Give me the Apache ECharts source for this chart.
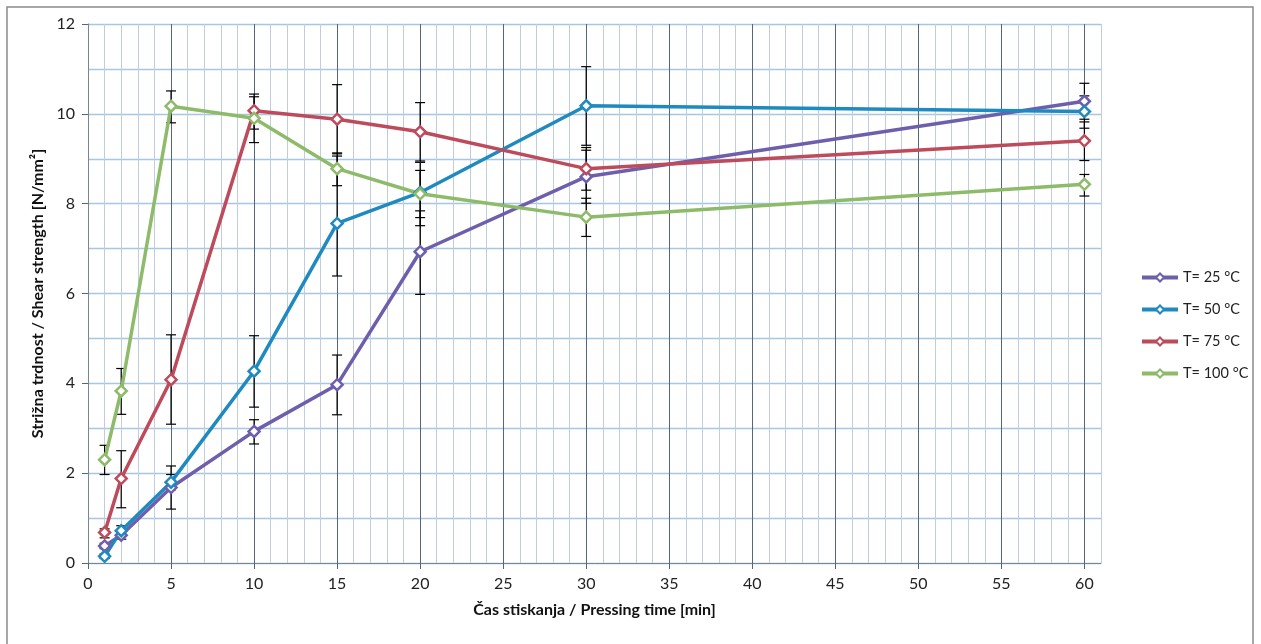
<!DOCTYPE html>
<html>
<head>
<meta charset="utf-8">
<script src="https://cdn.jsdelivr.net/npm/echarts@6/dist/echarts.min.js"></script>
<style>
html,body{margin:0;padding:0;background:#fff;}
#chart{width:1261px;height:644px;}
</style>
</head>
<body>
<div id="chart"></div>
<script>
// Pressing times (min)
const times = [1, 2, 5, 10, 15, 20, 30, 60];
const xTickLabels = [0, 5, 10, 15, 20, 25, 30, 35, 40, 45, 50, 55, 60];
const yTickLabels = [0, 2, 4, 6, 8, 10, 12];
const seriesNames = ['T= 25 °C', 'T= 50 °C', 'T= 75 °C', 'T= 100 °C'];

// Shear strength means [N/mm²]
const t25 = [0.38, 0.62, 1.68, 2.93, 3.97, 6.93, 8.60, 10.28];
const t50 = [0.15, 0.72, 1.80, 4.27, 7.56, 8.25, 10.18, 10.05];
const t75 = [0.68, 1.88, 4.08, 10.07, 9.88, 9.60, 8.78, 9.40];
const t100 = [2.30, 3.83, 10.17, 9.90, 8.78, 8.22, 7.70, 8.43];

// Error bar lows / highs
const t25Low  = [0.32, 0.53, 1.20, 2.65, 3.30, 5.98, 8.01, 9.88];
const t25High = [0.44, 0.72, 2.16, 3.19, 4.63, 7.84, 9.19, 10.68];
const t50Low  = [0.10, 0.60, 1.63, 3.47, 6.39, 7.51, 9.30, 9.68];
const t50High = [0.20, 0.83, 1.97, 5.06, 9.06, 8.92, 11.05, 10.40];
const t75Low  = [0.56, 1.23, 3.09, 9.66, 9.11, 8.95, 8.30, 8.96];
const t75High = [0.76, 2.50, 5.08, 10.44, 10.65, 10.25, 9.25, 9.82];
const t100Low  = [1.97, 3.31, 9.80, 9.36, 8.40, 7.69, 7.27, 8.17];
const t100High = [2.62, 4.33, 10.51, 10.38, 9.13, 8.74, 8.12, 8.65];

const colors = ['#6E5FAD', '#1F8ABF', '#BE4B5B', '#8DBB69'];
const means = [t25, t50, t75, t100];
const lows = [t25Low, t50Low, t75Low, t100Low];
const highs = [t25High, t50High, t75High, t100High];

const FONT = 'Lato, "Liberation Sans", sans-serif';

const lineSeries = means.map((vals, i) => ({
  name: seriesNames[i],
  type: 'line',
  xAxisIndex: 0,
  yAxisIndex: 0,
  data: times.map((t, j) => [t, vals[j]]),
  symbol: 'diamond',
  symbolSize: 11,
  showSymbol: true,
  lineStyle: { color: colors[i], width: 3.5 },
  itemStyle: { color: '#ffffff', borderColor: colors[i], borderWidth: 2.5 },
  z: 5,
  animation: false
}));

const errData = [];
means.forEach((vals, i) => {
  times.forEach((t, j) => errData.push([t, lows[i][j], highs[i][j]]));
});

const errSeries = {
  type: 'custom',
  xAxisIndex: 0,
  yAxisIndex: 0,
  data: errData,
  z: 4,
  silent: true,
  animation: false,
  renderItem: function (params, api) {
    const x = api.value(0);
    const lo = api.coord([x, api.value(1)]);
    const hi = api.coord([x, api.value(2)]);
    const w = 5;
    const style = { stroke: '#000', lineWidth: 1.2 };
    return {
      type: 'group',
      children: [
        { type: 'line', shape: { x1: lo[0], y1: lo[1], x2: hi[0], y2: hi[1] }, style: style },
        { type: 'line', shape: { x1: lo[0] - w, y1: lo[1], x2: lo[0] + w, y2: lo[1] }, style: style },
        { type: 'line', shape: { x1: hi[0] - w, y1: hi[1], x2: hi[0] + w, y2: hi[1] }, style: style }
      ]
    };
  }
};

const minorColor = '#BFCDDC';
const majorColor = '#56667A';

const option = {
  backgroundColor: '#ffffff',
  animation: false,
  textStyle: { fontFamily: FONT },
  grid: { left: 88, top: 24, right: 160, bottom: 81, containLabel: false },
  graphic: [{
    type: 'rect',
    shape: { x: 7, y: 7, width: 1246, height: 645 },
    style: { fill: 'none', stroke: '#8a8a8a', lineWidth: 1.5 },
    silent: true,
    z: 0
  }],
  legend: {
    orient: 'vertical',
    left: 1135,
    top: 265,
    itemWidth: 36,
    itemHeight: 10,
    itemGap: 17,
    data: seriesNames,
    lineStyle: { width: 4 },
    textStyle: { fontSize: 14.5, color: '#222', fontFamily: FONT }
  },
  xAxis: [{
    type: 'value',
    min: 0, max: 61, interval: 1,
    axisLine: { show: true, lineStyle: { color: '#7a8592', width: 1 } },
    axisTick: { show: false },
    axisLabel: { show: false },
    splitLine: { show: true, lineStyle: { color: [majorColor, minorColor, minorColor, minorColor, minorColor], width: 1 } }
  }, {
    type: 'value',
    position: 'bottom',
    min: 0, max: 61, interval: 5,
    axisLine: { show: false },
    axisTick: { show: true, length: 6, customValues: xTickLabels, lineStyle: { color: '#56667A' } },
    axisLabel: { show: true, customValues: xTickLabels, margin: 13, fontSize: 16, color: '#222', fontFamily: FONT },
    splitLine: { show: false },
    name: 'Čas stiskanja / Pressing time [min]',
    nameLocation: 'middle',
    nameGap: 39,
    nameTextStyle: { fontSize: 16, fontWeight: 'bold', color: '#111', fontFamily: FONT }
  }],
  yAxis: [{
    type: 'value',
    min: 0, max: 12, interval: 1,
    axisLine: { show: true, lineStyle: { color: '#7a8592', width: 1 } },
    axisTick: { show: false },
    axisLabel: { show: false },
    splitLine: { show: true, lineStyle: { color: '#A9C5E2', width: 1.3 } }
  }, {
    type: 'value',
    position: 'left',
    min: 0, max: 12, interval: 2,
    axisLine: { show: false },
    axisTick: { show: true, length: 6, customValues: yTickLabels, lineStyle: { color: '#56667A' } },
    axisLabel: { show: true, customValues: yTickLabels, margin: 13, fontSize: 16, color: '#222', fontFamily: FONT },
    splitLine: { show: false },
    name: 'Strižna trdnost / Shear strength [N/mm²]',
    nameLocation: 'middle',
    nameGap: 42,
    nameRotate: 90,
    nameTextStyle: { fontSize: 16, fontWeight: 'bold', color: '#111', fontFamily: FONT }
  }],
  series: [errSeries].concat(lineSeries)
};

const chart = echarts.init(document.getElementById('chart'), null, { renderer: 'canvas' });
chart.setOption(option);
</script>
</body>
</html>
